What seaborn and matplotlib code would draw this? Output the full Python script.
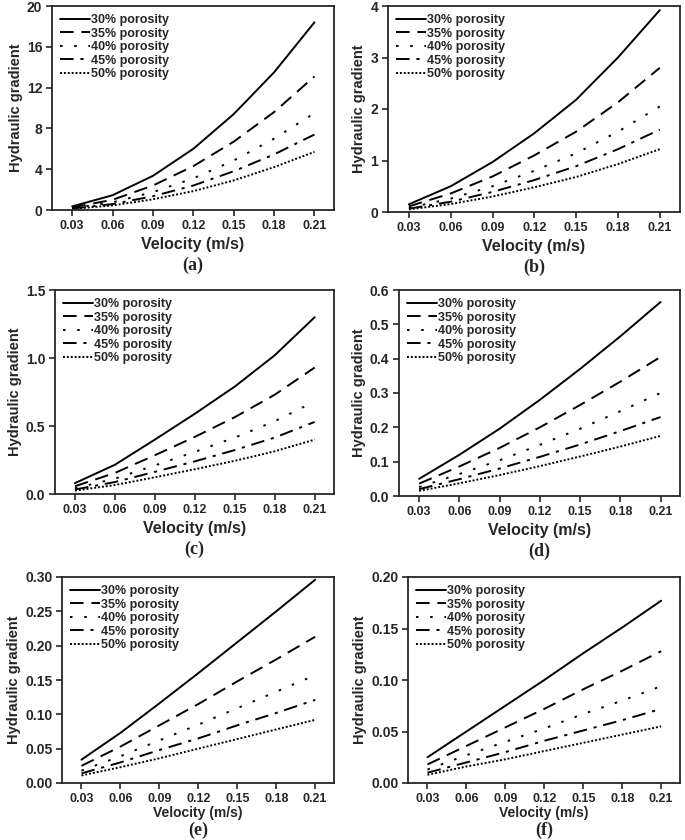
import numpy as np
import pandas as pd
import matplotlib
matplotlib.use("Agg")
import matplotlib.pyplot as plt
import seaborn as sns

# Velocity points (m/s) and porosity labels
velocity = [0.03, 0.06, 0.09, 0.12, 0.15, 0.18, 0.21]
porosity = ['30% porosity', '35% porosity', '40% porosity', '45% porosity', '50% porosity']

# Hydraulic gradient, one list per porosity
grad_a = [
    [0.35, 1.45, 3.35, 6.0, 9.4, 13.5, 18.4],
    [0.25, 1.0, 2.4, 4.3, 6.7, 9.6, 13.1],
    [0.18, 0.75, 1.75, 3.1, 4.85, 7.0, 9.5],
    [0.14, 0.58, 1.35, 2.4, 3.8, 5.45, 7.4],
    [0.11, 0.45, 1.05, 1.85, 2.9, 4.2, 5.7],
]
grad_b = [
    [0.15, 0.5, 0.97, 1.53, 2.18, 3.0, 3.92],
    [0.11, 0.36, 0.69, 1.1, 1.56, 2.13, 2.8],
    [0.08, 0.26, 0.5, 0.8, 1.14, 1.56, 2.05],
    [0.065, 0.2, 0.39, 0.62, 0.89, 1.22, 1.6],
    [0.05, 0.155, 0.3, 0.48, 0.68, 0.93, 1.22],
]
grad_c = [
    [0.08, 0.215, 0.4, 0.59, 0.79, 1.02, 1.3],
    [0.057, 0.155, 0.285, 0.42, 0.565, 0.73, 0.93],
    [0.042, 0.113, 0.21, 0.31, 0.415, 0.535, 0.68],
    [0.033, 0.088, 0.163, 0.24, 0.323, 0.415, 0.53],
    [0.025, 0.066, 0.123, 0.182, 0.244, 0.314, 0.40],
]
grad_d = [
    [0.05, 0.12, 0.196, 0.28, 0.37, 0.465, 0.565],
    [0.036, 0.086, 0.14, 0.2, 0.265, 0.333, 0.405],
    [0.026, 0.064, 0.104, 0.149, 0.196, 0.247, 0.30],
    [0.02, 0.049, 0.08, 0.114, 0.15, 0.189, 0.23],
    [0.015, 0.037, 0.061, 0.087, 0.115, 0.144, 0.175],
]
grad_e = [
    [0.034, 0.073, 0.116, 0.16, 0.205, 0.25, 0.296],
    [0.025, 0.053, 0.084, 0.115, 0.148, 0.18, 0.213],
    [0.018, 0.039, 0.062, 0.085, 0.109, 0.133, 0.157],
    [0.014, 0.03, 0.048, 0.065, 0.084, 0.102, 0.121],
    [0.011, 0.023, 0.036, 0.05, 0.064, 0.078, 0.092],
]
grad_f = [
    [0.025, 0.05, 0.075, 0.1, 0.126, 0.151, 0.177],
    [0.018, 0.036, 0.054, 0.072, 0.091, 0.109, 0.128],
    [0.013, 0.027, 0.04, 0.053, 0.067, 0.08, 0.094],
    [0.01, 0.02, 0.03, 0.041, 0.051, 0.061, 0.072],
    [0.008, 0.016, 0.023, 0.031, 0.039, 0.047, 0.055],
]

panel_labels = ['(a)', '(b)', '(c)', '(d)', '(e)', '(f)']
yticks = [
    [0, 4, 8, 12, 16, 20],
    [0, 1, 2, 3, 4],
    [0.0, 0.5, 1.0, 1.5],
    [0.0, 0.1, 0.2, 0.3, 0.4, 0.5, 0.6],
    [0.00, 0.05, 0.10, 0.15, 0.20, 0.25, 0.30],
    [0.00, 0.05, 0.10, 0.15, 0.20],
]
ytick_fmt = ['{:.0f}', '{:.0f}', '{:.1f}', '{:.1f}', '{:.2f}', '{:.2f}']

sns.set_style('ticks')
plt.rcParams['font.family'] = ['Liberation Sans', 'DejaVu Sans']
plt.rcParams['font.weight'] = 'bold'
plt.rcParams['axes.labelweight'] = 'bold'
plt.rcParams['axes.linewidth'] = 1.3
plt.rcParams['xtick.direction'] = 'out'
plt.rcParams['ytick.direction'] = 'out'

line_dashes = {
    '30% porosity': '',
    '35% porosity': (7, 4),
    '40% porosity': (1.3, 6),
    '45% porosity': (7, 3.5, 1.6, 3.5),
    '50% porosity': (1, 1),
}

fig = plt.figure(figsize=(6.85, 8.4), dpi=100)
W, H = 685.0, 840.0

# axes boxes in pixels: left, top, right, bottom
boxes = [
    (52, 6, 334, 210),
    (388, 6, 680, 212),
    (55, 290, 334, 494),
    (399, 290, 680, 496),
    (62, 577, 334, 783),
    (408, 577, 680, 783),
]
all_data = [grad_a, grad_b, grad_c, grad_d, grad_e, grad_f]

for k, (grad, box) in enumerate(zip(all_data, boxes)):
    l, t, r, b = box
    ax = fig.add_axes([l / W, 1 - b / H, (r - l) / W, (b - t) / H])

    rows = []
    for name, vals in zip(porosity, grad):
        for v, g in zip(velocity, vals):
            rows.append({'Velocity': v, 'Gradient': g, 'Porosity': name})
    df = pd.DataFrame(rows)

    sns.lineplot(data=df, x='Velocity', y='Gradient', style='Porosity',
                 style_order=porosity, dashes=line_dashes, color='black',
                 linewidth=1.4, errorbar=None, ax=ax)

    ax.set_xlim(0.015, 0.2245)
    ax.set_ylim(yticks[k][0], yticks[k][-1])
    ax.set_xticks(velocity)
    ax.set_xticklabels(['{:.2f}'.format(v) for v in velocity])
    ax.set_yticks(yticks[k])
    ax.set_yticklabels([ytick_fmt[k].format(y) for y in yticks[k]])
    ax.tick_params(length=4, width=1.2, pad=3)
    ax.tick_params(axis='x', labelsize=9)
    ax.tick_params(axis='y', labelsize=10)

    big = k < 4
    ax.set_xlabel('Velocity (m/s)', fontsize=11.5 if big else 10, labelpad=4 if big else 1)
    ax.set_ylabel('Hydraulic gradient', fontsize=10.5, labelpad=3)

    sns.move_legend(ax, 'upper left', bbox_to_anchor=(0.0, 1.0), title=None,
                    frameon=False, fontsize=9, handlelength=2.4,
                    labelspacing=0.12, borderaxespad=0.25, handletextpad=0.1)

    # panel caption below the x label
    cx = (l + r) / 2 / W
    cy = 1 - (b + (55 if big else 47)) / H
    fig.text(cx, cy, panel_labels[k], ha='center', va='center',
             fontsize=13, fontweight='bold', family='Liberation Serif')

fig.savefig('out.png', dpi=100)
